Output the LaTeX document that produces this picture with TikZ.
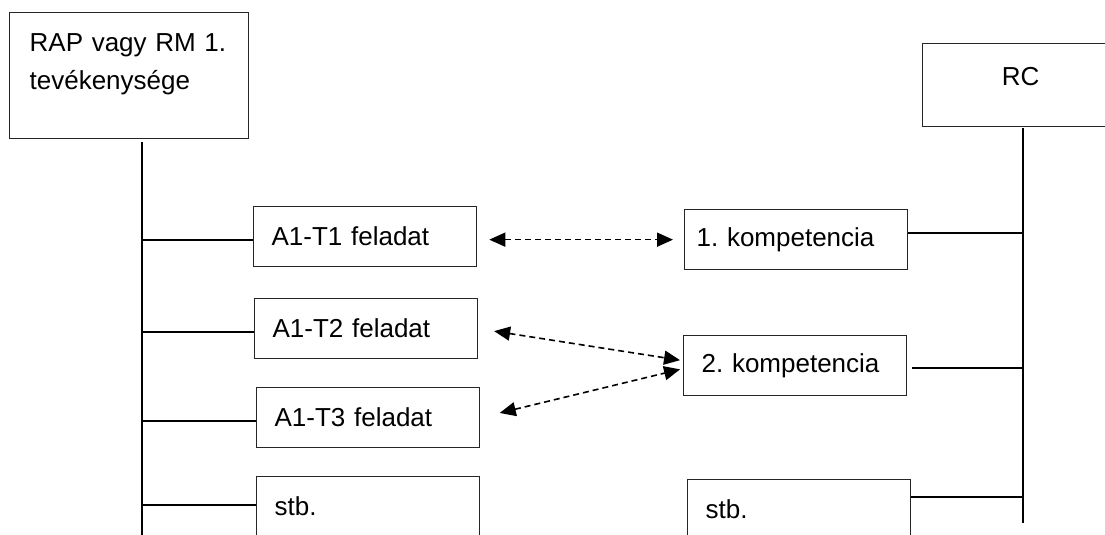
\documentclass[tikz,border=0pt]{standalone}
\usepackage{fontspec}
\setmainfont{Liberation Sans}
\usetikzlibrary{arrows.meta}

\tikzset{
  box/.style={draw=black!85, line width=1.3pt, anchor=north west, minimum height=60pt,
    text width=187pt, inner xsep=18pt, inner ysep=0pt, align=left},
  lane/.style={line width=2pt},
  link/.style={line width=1.7pt},
  pair/.style={line width=1.6pt, dash pattern=on 6pt off 4pt,
    {Triangle[length=16pt,width=14pt]}-{Triangle[length=16pt,width=14pt]}}
}

\begin{document}
\frenchspacing
\begin{tikzpicture}[x=1pt, y=-1pt, font=\fontsize{26}{38}\selectfont]
    \useasboundingbox (0,0) rectangle (1105,535);

    % Header boxes
    \node[draw=black!85, line width=1.3pt, anchor=north west, text width=199pt,
          inner xsep=20pt, inner ysep=0pt, align=left, text height=39pt, text depth=87pt]
          (act) at (9,12) {RAP vagy RM 1.\\tevékenysége};
    \node[draw=black!85, line width=1.3pt, anchor=north west, minimum width=196pt,
          inner ysep=0pt, text height=42pt, text depth=41pt]
          (rc) at (922,43) {RC};

    % Life lines
    \coordinate (ltop) at (142,142);
    \coordinate (lbot) at (142,540);
    \coordinate (rtop) at (1023,128);
    \coordinate (rbot) at (1023,523);
    \draw[lane] (ltop) -- (lbot);
    \draw[lane] (rtop) -- (rbot);

    % Tasks (left)
    \node[box] (t1) at (253,206) {A1-T1 feladat};
    \node[box] (t2) at (254,298) {A1-T2 feladat};
    \node[box] (t3) at (256,387) {A1-T3 feladat};
    \node[box] (s1) at (256,476) {stb.};

    % Competences (right)
    \node[box, inner xsep=12pt, text width=199pt] (k1) at (684,209) {1. kompetencia};
    \node[box] (k2) at (683,335) {2. kompetencia};
    \node[box] (s2) at (687,479) {stb.};

    % Connectors to the life lines
    \foreach \n in {t1,t2,t3}
        \draw[link] ([yshift=-3pt]\n.west -| ltop) -- ([yshift=-3pt]\n.west);
    \draw[link] ([yshift=2pt]s1.west -| ltop) -- ([yshift=2pt]s1.west);
    \draw[link] ([yshift=7pt]k1.east) -- ([yshift=7pt]k1.east -| rtop);
    \draw[link] ([xshift=5pt,yshift=-2pt]k2.east) -- ([yshift=-2pt]k2.east -| rtop);
    \draw[link] ([yshift=-18pt]s2.north east) -- ([yshift=-18pt]s2.north east -| rtop);

    % Task <-> competence
    \draw[pair, shorten <=12pt, shorten >=11pt] ([yshift=-3pt]t1.east) -- (k1.west);
    \draw[pair, shorten <=16pt, shorten >=3pt] (t2.east) -- ([yshift=5pt]k2.west);
    \draw[pair, shorten <=20pt, shorten >=3pt] (t3.east) -- ([yshift=-3pt]k2.west);
\end{tikzpicture}
\end{document}
